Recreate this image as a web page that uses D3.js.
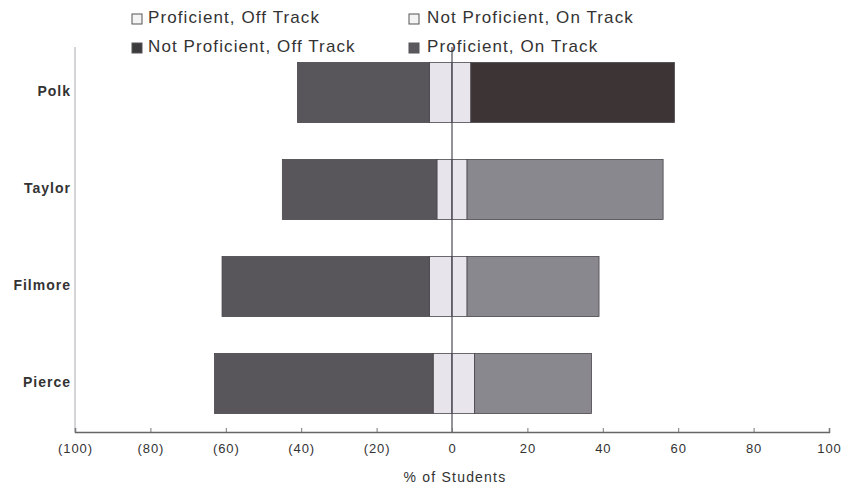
<!DOCTYPE html>
<html>
<head>
<meta charset="utf-8">
<script src="https://cdn.jsdelivr.net/npm/d3@7"></script>
<style>
  html, body { margin: 0; padding: 0; background: #fff; }
  svg { display: block; font-family: "Liberation Sans", Arial, sans-serif; }
</style>
</head>
<body>
<svg id="chart" width="842" height="487"></svg>
<script>
// Schools and their student distribution (% of students)
const categories = ["Polk", "Taylor", "Filmore", "Pierce"];
const profOffTrack = [6, 4, 6, 5];        // left of zero, next to the axis
const notProfOffTrack = [35, 41, 55, 58]; // left of zero, outer part
const notProfOnTrack = [5, 4, 4, 6];      // right of zero, next to the axis
const profOnTrack = [54, 52, 35, 31];     // right of zero, outer part
const tickValues = [-100, -80, -60, -40, -20, 0, 20, 40, 60, 80, 100];

const svg = d3.select("#chart");

const x = d3.scaleLinear().domain([-100, 100]).range([75, 829]);
const y = d3.scaleBand().domain(categories).range([44, 432])
  .paddingInner(0.38).paddingOuter(0.19);

const series = [
  { key: "profOff", name: "Proficient, Off Track", values: profOffTrack, side: -1, order: 0,
    fill: "#e7e5eb", legendFill: "#f4f4f4" },
  { key: "notProfOff", name: "Not Proficient, Off Track", values: notProfOffTrack, side: -1, order: 1,
    fill: "#58555b", legendFill: "#3c3a3c" },
  { key: "notProfOn", name: "Not Proficient, On Track", values: notProfOnTrack, side: 1, order: 0,
    fill: "#e8e6ec", legendFill: "#f4f4f4" },
  { key: "profOn", name: "Proficient, On Track", values: profOnTrack, side: 1, order: 1,
    fill: "#8a888f", legendFill: "#5a585c" }
];

// Polk's on-track block is printed in a much darker shade
const fillFor = (s, cat) => (s.key === "profOn" && cat === "Polk") ? "#3d3436" : s.fill;

// Build diverging segments: inner blocks start at zero, outer blocks continue from them
const segments = [];
categories.forEach((cat, i) => {
  [-1, 1].forEach(side => {
    let acc = 0;
    series.filter(s => s.side === side).sort((a, b) => a.order - b.order).forEach(s => {
      const v0 = acc, v1 = acc + s.values[i];
      acc = v1;
      segments.push({ cat, s, a: side * v0, b: side * v1 });
    });
  });
});

// Left (category) axis line
svg.append("line")
  .attr("x1", x(-100)).attr("x2", x(-100))
  .attr("y1", 47).attr("y2", 432)
  .attr("stroke", "#b8b8c0").attr("stroke-width", 1.2);

// Bars
svg.append("g").selectAll("rect").data(segments).join("rect")
  .attr("x", d => x(Math.min(d.a, d.b)))
  .attr("width", d => Math.abs(x(d.b) - x(d.a)))
  .attr("y", d => y(d.cat))
  .attr("height", y.bandwidth())
  .attr("fill", d => fillFor(d.s, d.cat))
  .attr("stroke", "#4a474c")
  .attr("stroke-width", 0.8);

// Zero line
svg.append("line")
  .attr("x1", x(0)).attr("x2", x(0))
  .attr("y1", 47).attr("y2", 432)
  .attr("stroke", "#4a4a55").attr("stroke-width", 1.2);

// Bottom axis
const xAxis = d3.axisBottom(x)
  .tickValues(tickValues)
  .tickSize(-4)
  .tickPadding(12)
  .tickFormat(d => d < 0 ? `(${-d})` : `${d}`);

const gx = svg.append("g")
  .attr("transform", "translate(0,432)")
  .call(xAxis);
gx.select(".domain").attr("stroke", "#666").attr("stroke-width", 1.5);
gx.selectAll(".tick line").attr("stroke", "#777");
gx.selectAll(".tick text")
  .attr("fill", "#333")
  .style("font-size", "13px")
  .style("letter-spacing", "0.9px")
  .style("font-family", "'Liberation Sans', Arial, sans-serif");

// Axis title
svg.append("text")
  .attr("x", x(0) + 3).attr("y", 478)
  .attr("text-anchor", "middle")
  .attr("dominant-baseline", "middle")
  .attr("fill", "#333")
  .style("font-size", "14px")
  .style("letter-spacing", "1.2px")
  .text("% of Students");

// Category labels
svg.append("g").selectAll("text").data(categories).join("text")
  .attr("x", 71)
  .attr("y", d => y(d) + y.bandwidth() / 2)
  .attr("text-anchor", "end")
  .attr("dominant-baseline", "middle")
  .attr("fill", "#333")
  .style("font-size", "14px")
  .style("font-weight", "bold")
  .style("letter-spacing", "1px")
  .text(d => d);

// Legend in two columns
const legendPos = {
  profOff: [132, 19], notProfOn: [409, 19],
  notProfOff: [132, 48], profOn: [409, 48]
};
const lg = svg.append("g").selectAll("g").data(series).join("g")
  .attr("transform", d => `translate(${legendPos[d.key][0]},${legendPos[d.key][1]})`);
lg.append("rect")
  .attr("x", 0).attr("y", -5).attr("width", 10).attr("height", 10)
  .attr("fill", d => d.legendFill)
  .attr("stroke", "#555").attr("stroke-width", 1);
lg.append("text")
  .attr("x", d => d.key === "profOff" || d.key === "notProfOff" ? 16 : 18)
  .attr("y", 0)
  .attr("dominant-baseline", "middle")
  .attr("fill", "#333")
  .style("font-size", "17px")
  .style("letter-spacing", "1.1px")
  .text(d => d.name);
</script>
</body>
</html>
